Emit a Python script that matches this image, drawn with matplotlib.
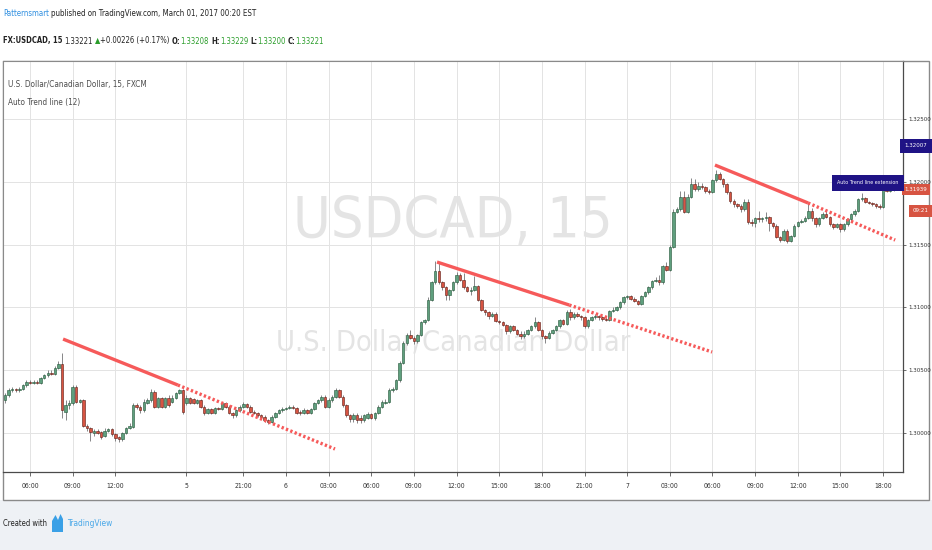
import numpy as np
import matplotlib
matplotlib.use('Agg')
import matplotlib.pyplot as plt
from matplotlib import font_manager
from matplotlib.patches import Rectangle, Polygon

W, H = 932, 550

# 15 min bars, values in pips above 1.30000, oldest first
open_pips = [
    26, 30, 34, 35, 34, 35, 38, 41, 40, 41,
    40, 44, 46, 48, 47, 52, 55, 17, 22, 24,
    37, 25, 26, 6, 4, 0, 2, 1, -2, 2,
    3, -1, -3, -5, 0, 4, 5, 22, 21, 18,
    24, 26, 33, 21, 28, 21, 28, 25, 28, 32,
    34, 24, 28, 27, 24, 26, 21, 16, 19, 16,
    20, 19, 24, 21, 16, 14, 18, 21, 23, 21,
    17, 16, 14, 13, 10, 9, 13, 16, 18, 19,
    20, 21, 20, 17, 16, 18, 16, 19, 24, 26,
    29, 21, 26, 29, 34, 29, 22, 14, 11, 14,
    12, 10, 12, 15, 12, 16, 21, 24, 25, 34,
    35, 42, 56, 72, 78, 76, 73, 78, 88, 90,
    106, 120, 129, 120, 116, 110, 114, 120, 126, 122,
    116, 113, 114, 117, 106, 98, 96, 93, 95, 89,
    88, 86, 81, 85, 82, 79, 77, 79, 82, 85,
    88, 82, 77, 76, 80, 82, 85, 90, 87, 96,
    92, 95, 93, 92, 85, 90, 92, 93, 92, 91,
    90, 97, 98, 100, 104, 108, 109, 107, 105, 103,
    109, 112, 116, 121, 122, 120, 133, 130, 148, 176,
    178, 188, 176, 188, 198, 194, 197, 196, 193, 192,
    201, 206, 202, 198, 192, 185, 182, 181, 178, 184,
    168, 167, 171, 170, 171, 172, 167, 165, 156, 154,
    161, 153, 157, 165, 168, 169, 171, 177, 171, 166,
    171, 174, 172, 166, 164, 166, 162, 166, 170, 174,
    177, 186, 187, 184, 183, 182, 181, 180, 197, 193,
    195,
]
close_pips = [
    30, 34, 35, 34, 35, 38, 41, 40, 41, 40,
    44, 46, 48, 47, 52, 55, 18, 22, 24, 37,
    25, 26, 6, 4, 1, 2, 0, -3, 2, 3,
    -1, -4, -5, 0, 4, 6, 22, 21, 18, 25,
    26, 33, 21, 28, 21, 28, 22, 28, 32, 34,
    17, 28, 24, 24, 26, 21, 16, 19, 16, 20,
    19, 24, 21, 16, 14, 18, 21, 23, 21, 17,
    16, 14, 13, 10, 9, 13, 16, 18, 19, 20,
    21, 20, 16, 16, 18, 16, 19, 24, 26, 29,
    21, 26, 29, 34, 29, 22, 14, 11, 14, 10,
    10, 14, 15, 12, 16, 21, 25, 25, 34, 35,
    42, 56, 72, 78, 76, 73, 78, 88, 90, 106,
    120, 129, 120, 116, 110, 114, 120, 126, 122, 116,
    113, 114, 117, 106, 98, 96, 93, 95, 89, 88,
    86, 81, 85, 82, 79, 77, 79, 82, 85, 88,
    82, 77, 76, 80, 82, 85, 90, 87, 96, 92,
    95, 93, 92, 85, 90, 92, 93, 92, 91, 90,
    97, 98, 100, 104, 108, 109, 107, 105, 103, 109,
    112, 116, 121, 122, 120, 133, 130, 148, 176, 178,
    188, 176, 188, 198, 194, 197, 196, 193, 192, 201,
    206, 202, 198, 192, 185, 182, 181, 178, 184, 168,
    167, 171, 170, 171, 172, 167, 165, 156, 154, 161,
    153, 157, 165, 168, 169, 171, 177, 171, 166, 171,
    174, 172, 166, 164, 166, 162, 166, 170, 174, 177,
    186, 187, 184, 183, 182, 181, 180, 197, 193, 195,
    194,
]
high_pips = [
    32, 36, 37, 36, 37, 39, 42, 42, 42, 42,
    45, 47, 50, 50, 53, 57, 64, 26, 26, 38,
    38, 27, 27, 7, 5, 3, 3, 2, 4, 4,
    4, 0, -2, 1, 5, 8, 24, 24, 22, 27,
    28, 35, 34, 29, 29, 29, 30, 30, 33, 35,
    35, 30, 29, 28, 27, 27, 22, 20, 20, 21,
    21, 25, 25, 22, 17, 19, 22, 25, 24, 22,
    18, 17, 15, 14, 11, 14, 17, 19, 21, 21,
    22, 22, 21, 18, 20, 19, 20, 25, 27, 30,
    30, 28, 30, 36, 35, 30, 23, 15, 16, 16,
    14, 15, 17, 16, 17, 22, 26, 27, 36, 37,
    43, 57, 73, 80, 82, 77, 79, 89, 91, 108,
    121, 137, 136, 121, 117, 115, 121, 128, 127, 127,
    117, 116, 125, 118, 107, 99, 97, 96, 96, 90,
    89, 87, 86, 86, 83, 81, 81, 83, 86, 92,
    89, 83, 78, 81, 83, 86, 91, 91, 98, 99,
    96, 96, 94, 93, 91, 93, 95, 94, 93, 92,
    98, 100, 101, 105, 109, 110, 110, 108, 106, 110,
    113, 117, 122, 124, 126, 134, 136, 150, 178, 180,
    193, 193, 190, 203, 202, 200, 199, 197, 194, 202,
    209, 208, 203, 199, 193, 186, 183, 182, 186, 186,
    170, 172, 177, 172, 176, 173, 168, 166, 157, 162,
    162, 158, 166, 169, 170, 173, 184, 179, 172, 172,
    176, 177, 173, 167, 167, 167, 167, 171, 175, 178,
    187, 191, 188, 185, 184, 183, 182, 199, 198, 197,
    198,
]
low_pips = [
    24, 29, 33, 33, 33, 34, 37, 39, 39, 39,
    39, 43, 45, 46, 46, 51, 12, 10, 19, 22,
    24, 24, 5, 2, -6, -2, -1, -5, -3, 1,
    -2, -6, -7, -6, -1, 3, 4, 19, 16, 17,
    23, 25, 20, 20, 20, 20, 21, 24, 27, 31,
    15, 22, 23, 23, 23, 20, 14, 15, 15, 15,
    18, 18, 20, 15, 12, 13, 17, 20, 20, 16,
    15, 13, 12, 9, 7, 8, 12, 15, 17, 18,
    19, 19, 15, 14, 15, 15, 15, 18, 23, 25,
    20, 20, 25, 28, 28, 21, 13, 9, 9, 8,
    8, 9, 11, 11, 10, 15, 20, 23, 24, 33,
    34, 41, 55, 70, 75, 71, 72, 77, 87, 89,
    105, 119, 119, 114, 106, 106, 113, 119, 121, 115,
    112, 110, 113, 105, 97, 94, 91, 92, 88, 87,
    85, 79, 80, 81, 78, 75, 76, 78, 81, 84,
    81, 75, 72, 75, 79, 81, 84, 86, 86, 90,
    91, 92, 90, 84, 84, 89, 91, 90, 89, 89,
    89, 96, 97, 99, 103, 107, 106, 104, 102, 102,
    108, 111, 115, 120, 118, 119, 129, 129, 147, 175,
    177, 175, 175, 187, 193, 193, 194, 191, 190, 191,
    200, 201, 196, 190, 183, 180, 179, 176, 177, 166,
    165, 164, 168, 168, 169, 161, 163, 155, 152, 153,
    151, 152, 156, 164, 167, 168, 170, 169, 164, 165,
    170, 171, 165, 162, 163, 160, 161, 165, 169, 173,
    176, 185, 183, 182, 181, 179, 178, 179, 192, 192,
    193,
]
base_price = 1.30000

tick_bars = [7, 19, 31, 51, 67, 79, 91, 103, 115, 127,
             139, 151, 163, 175, 187, 199, 211, 223, 235, 247]
tick_labels = ['06:00', '09:00', '12:00', '5', '21:00', '6', '03:00', '06:00', '09:00', '12:00',
               '15:00', '18:00', '21:00', '7', '03:00', '06:00', '09:00', '12:00', '15:00', '18:00']
price_ticks = [1.300, 1.305, 1.310, 1.315, 1.320, 1.325]

# auto trend lines: start (pivot), end of solid part, end of dotted extension
trend_start_bar = [16.3, 121.5, 199.7]
trend_start_price = [1.30748, 1.31361, 1.32133]
trend_break_bar = [48.6, 158.7, 225.9]
trend_break_price = [1.30382, 1.31019, 1.31831]
trend_end_bar = [92.8, 198.9, 250.4]
trend_end_price = [1.29873, 1.30645, 1.31536]

last_price = 1.31939
alert_price_label = '1.32007'
countdown = '09:21'

assert len(open_pips) == len(close_pips) == len(high_pips) == len(low_pips)

# prefer a narrow face, the screenshot text is very condensed
narrow = None
for f in font_manager.fontManager.ttflist:
    st = str(f.stretch)
    if f.style != 'normal' or f.weight not in (400, 'normal', 'regular'):
        continue
    if 'condensed' in st or 'Narrow' in f.name or 'Condensed' in f.name:
        narrow = f
        break
if narrow is not None:
    FONT, STRETCH = narrow.name, str(narrow.stretch)
else:
    FONT, STRETCH = 'DejaVu Sans', 'normal'
GROW = 1.2  # small texts a bit wider than the squeezed original so they stay legible
plt.rcParams['font.family'] = [FONT, 'DejaVu Sans']
plt.rcParams['font.stretch'] = STRETCH

UP, UP_EDGE = '#5f9f7e', '#225437'
DN, DN_EDGE = '#d75442', '#5b1a13'
WICK = '#737375'
TREND = '#f65a5a'
NAVY = '#1f1385'
TXT = '#333333'
GREEN = '#2a9d2a'

fig = plt.figure(figsize=(W / 100, H / 100), dpi=100)
fig.patch.set_facecolor('white')
renderer = fig.canvas.get_renderer()


def fx(px):
    return px / W


def fy(py):
    return 1 - py / H


def measure(s, size, weight='normal'):
    t = fig.text(0, 0, s, fontsize=size, fontweight=weight)
    w = t.get_window_extent(renderer).width
    t.remove()
    return w


def fit(s, width_px, weight='normal'):
    return 10 * width_px / measure(s, 10, weight)


def draw_runs(x_px, y_px, runs, width_px):
    space = measure('a a', 10) - measure('aa', 10)
    total = sum(measure(s, 10, wt) + g * space for s, c, wt, g in runs)
    size = 10 * width_px / total
    x = x_px
    for s, c, wt, g in runs:
        x += g * space * size / 10
        t = fig.text(fx(x), fy(y_px), s, fontsize=size, color=c, fontweight=wt, va='center')
        x += t.get_window_extent(renderer).width
    return x


# page background and chart frame
fig.add_artist(Rectangle((0, 0), 1, fy(500), transform=fig.transFigure,
                         fc='#eef1f5', ec='none', zorder=-2))
fig.add_artist(Rectangle((fx(3), fy(500)), fx(929) - fx(3), fy(61) - fy(500),
                         transform=fig.transFigure, fc='white', ec='#8a8a8a', lw=1.0, zorder=-1))

ax = fig.add_axes([fx(3), fy(472), fx(903) - fx(3), fy(61) - fy(472)])
ax.set_facecolor('white')

o = base_price + np.array(open_pips) / 1e4
c = base_price + np.array(close_pips) / 1e4
hi = np.maximum(base_price + np.array(high_pips) / 1e4, np.maximum(o, c))
lo = np.minimum(base_price + np.array(low_pips) / 1e4, np.minimum(o, c))
x = np.arange(len(c))
up = c >= o
body_lo = np.minimum(o, c)
body_h = np.maximum(np.abs(c - o), 0.00003)

ax.vlines(x, lo, hi, color=WICK, lw=0.6, zorder=2)
ax.bar(x[up], body_h[up], bottom=body_lo[up], width=0.7, color=UP,
       edgecolor=UP_EDGE, linewidth=0.4, zorder=3)
ax.bar(x[~up], body_h[~up], bottom=body_lo[~up], width=0.7, color=DN,
       edgecolor=DN_EDGE, linewidth=0.4, zorder=3)

for i in range(len(trend_start_bar)):
    ax.plot([trend_start_bar[i], trend_break_bar[i]], [trend_start_price[i], trend_break_price[i]],
            color=TREND, lw=2.4, solid_capstyle='butt', zorder=4)
    ax.plot([trend_break_bar[i], trend_end_bar[i]], [trend_break_price[i], trend_end_price[i]],
            color=TREND, lw=2.4, linestyle=(0, (0.7, 0.7)), zorder=4)

ax.set_xlim(-0.6, 252.6)
ax.set_ylim(1.29690, 1.32961)
ax.set_xticks(tick_bars)
ax.set_xticklabels(tick_labels)
ax.set_yticks(price_ticks)
ax.set_yticklabels([f'{p:.5f}' for p in price_ticks])
ax.yaxis.tick_right()
ax.grid(True, color='#e3e3e3', lw=0.7)
ax.set_axisbelow(True)

tsize = fit('06:00', 15 * GROW)
psize = fit('1.32500', 23)
ax.tick_params(axis='x', length=3, width=0.6, color='#555555', pad=5,
               labelsize=tsize, labelcolor=TXT)
ax.tick_params(axis='y', length=2.5, width=0.6, color='#555555', pad=1.5,
               labelsize=psize, labelcolor=TXT)
for side in ('top', 'left'):
    ax.spines[side].set_color('#8a8a8a')
for side in ('bottom', 'right'):
    ax.spines[side].set_color('#4a4a4a')
    ax.spines[side].set_linewidth(0.9)

# watermark behind the grid
wm_size = fit('USDCAD, 15', 320)
ax.text(fx(453), fy(219 + 0.34 * wm_size * 100 / 72), 'USDCAD, 15', transform=fig.transFigure,
        ha='center', va='baseline', fontsize=wm_size, color='#e4e4e4', zorder=0.1)
wm2_size = fit('U.S. Dollar/Canadian Dollar', 356)
ax.text(fx(453), fy(341 + 0.34 * wm2_size * 100 / 72), 'U.S. Dollar/Canadian Dollar',
        transform=fig.transFigure, ha='center', va='baseline', fontsize=wm2_size,
        color='#e4e4e4', zorder=0.1)

# header
draw_runs(3, 13, [('Patternsmart', '#2f8fe0', 'normal', 0),
                  ('published on TradingView.com, March 01, 2017 00:20 EST', '#222222', 'normal', 1)],
          213 * GROW)
draw_runs(3, 41, [('FX:USDCAD, 15', '#222222', 'bold', 0),
                  ('1.33221', '#222222', 'normal', 1),
                  ('\u25B2', GREEN, 'normal', 1),
                  ('+0.00226 (+0.17%)', '#222222', 'normal', 0),
                  ('O:', '#222222', 'bold', 1), ('1.33208', GREEN, 'normal', 0),
                  ('H:', '#222222', 'bold', 1), ('1.33229', GREEN, 'normal', 0),
                  ('L:', '#222222', 'bold', 1), ('1.33200', GREEN, 'normal', 0),
                  ('C:', '#222222', 'bold', 1), ('1.33221', GREEN, 'normal', 0)], 265 * GROW)

# pane legend
draw_runs(8, 84, [('U.S. Dollar/Canadian Dollar, 15, FXCM', '#4c4c4c', 'normal', 0)], 116 * GROW)
draw_runs(8, 103, [('Auto Trend line (12)', '#4c4c4c', 'normal', 0)], 60 * GROW)

# price scale labels
ax.text(916 / 900 - 3 / 900, last_price, f'{last_price:.5f}',
        transform=ax.get_yaxis_transform(), ha='center', va='center', fontsize=psize,
        color='white', clip_on=False, zorder=10,
        bbox=dict(boxstyle='square,pad=0.45', fc=DN, ec='none'))
fig.text(fx(916), fy(146), alert_price_label, ha='center', va='center', fontsize=psize,
         color='white', zorder=10, bbox=dict(boxstyle='square,pad=0.7', fc=NAVY, ec='none'))
fig.text(fx(920.5), fy(211), countdown, ha='center', va='center', fontsize=psize,
         color='white', zorder=10, bbox=dict(boxstyle='square,pad=0.5', fc=DN, ec='none'))
lab_size = fit('Auto Trend line extension', 62)
fig.text(fx(868), fy(183), 'Auto Trend line extension', ha='center', va='center',
         fontsize=lab_size, color='white', zorder=10,
         bbox=dict(boxstyle='square,pad=1.0', fc=NAVY, ec='none'))

# footer
lx = draw_runs(3, 524, [('Created with', '#222222', 'normal', 0)], 37 * GROW) + 5
fig.add_artist(Polygon([(fx(lx), fy(532)), (fx(lx), fy(521)), (fx(lx + 3.5), fy(515)),
                        (fx(lx + 6), fy(520)), (fx(lx + 8.5), fy(514)), (fx(lx + 11), fy(519)),
                        (fx(lx + 11), fy(532))],
                       closed=True, transform=fig.transFigure, fc='#3aa0e6', ec='none'))
draw_runs(lx + 15, 524, [('TradingView', '#4aa8e8', 'normal', 0)], 38 * GROW)

fig.savefig('out.png', dpi=100, facecolor=fig.get_facecolor())
